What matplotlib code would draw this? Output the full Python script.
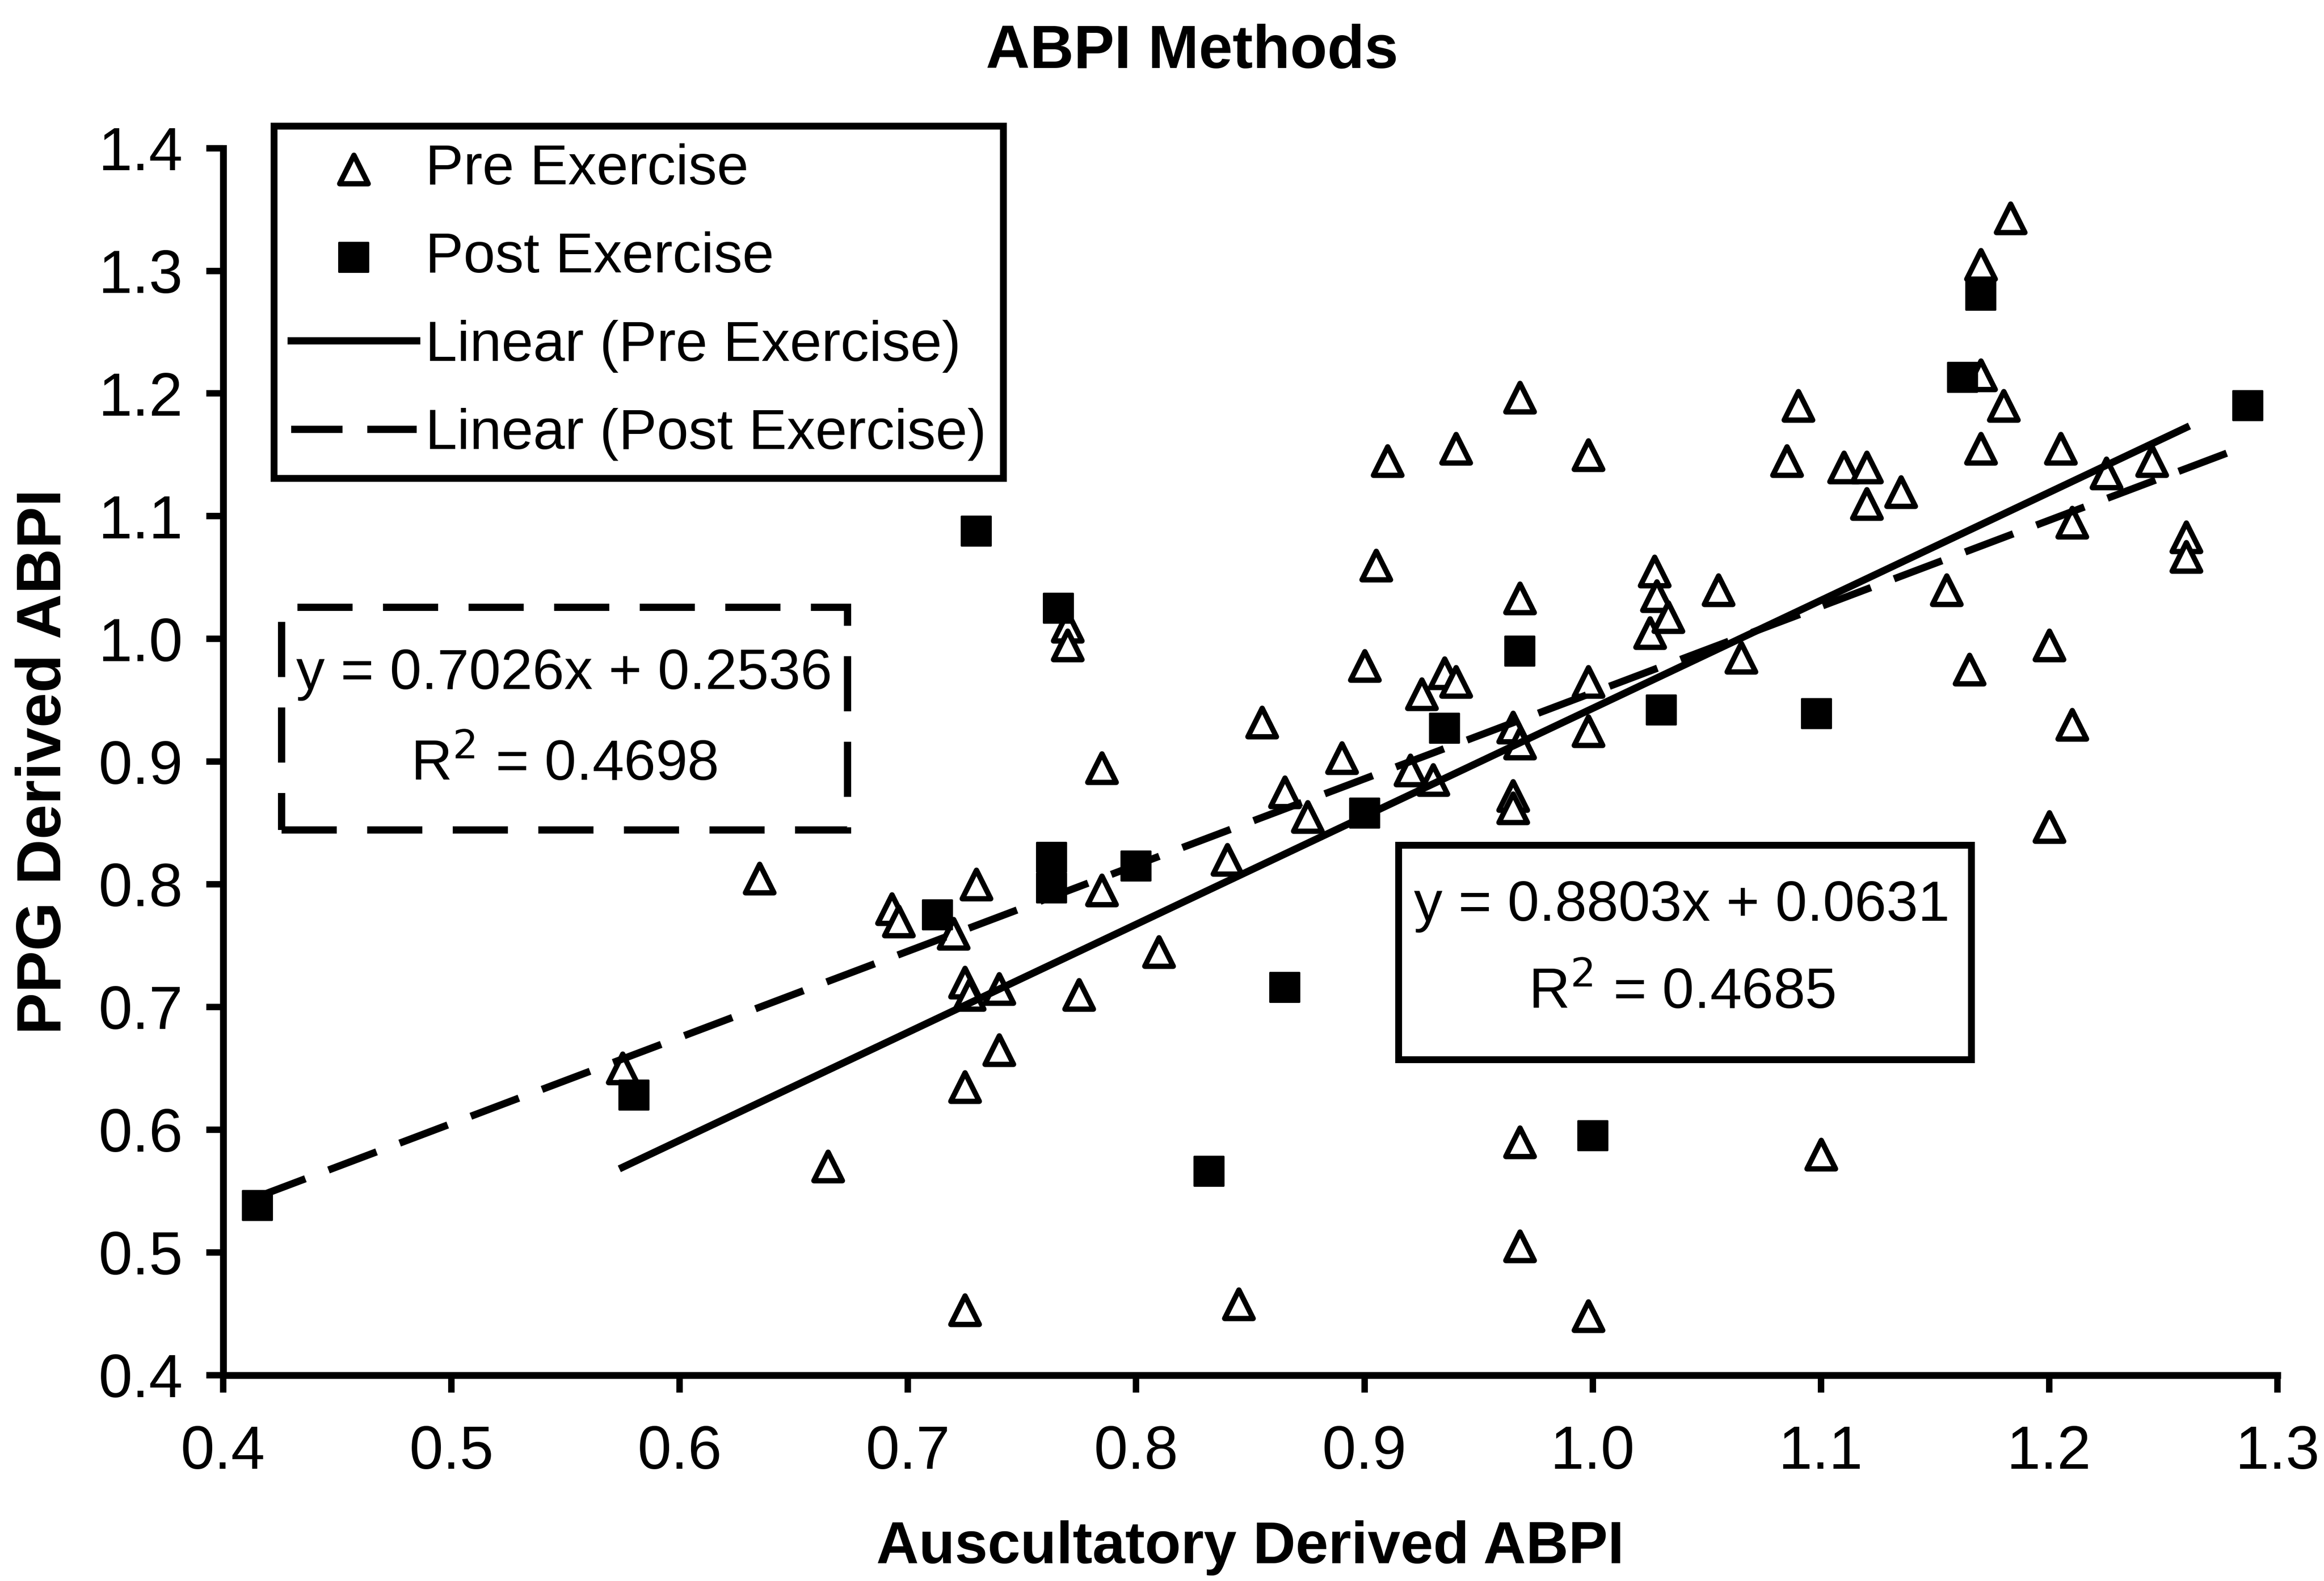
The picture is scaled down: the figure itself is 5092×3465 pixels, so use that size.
import matplotlib
matplotlib.use('Agg')
import matplotlib.pyplot as plt
from matplotlib.patches import Rectangle
from matplotlib.ticker import FormatStrFormatter
import numpy as np

plt.rcParams['font.family'] = ['Liberation Sans Narrow', 'Liberation Sans', 'DejaVu Sans']
plt.rcParams['lines.scale_dashes'] = False
BOLD = ['Liberation Sans', 'DejaVu Sans']

# Pre exercise readings (auscultatory, PPG)
pre_x = [0.575, 0.635, 0.665, 0.693, 0.696, 0.72, 0.725, 0.727, 0.73, 0.725, 0.725,
         0.74, 0.74, 0.77, 0.77, 0.775, 0.785, 0.785, 0.81, 0.84, 0.845, 0.855,
         0.865, 0.875, 0.89, 0.90, 0.905, 0.91, 0.92, 0.925, 0.935, 0.94, 0.93,
         0.94, 0.968, 0.968, 0.965, 0.968, 0.965, 0.965, 0.968, 0.968, 0.998,
         0.998, 0.998, 0.998, 1.027, 1.028, 1.025, 1.033, 1.055, 1.065, 1.085,
         1.09, 1.11, 1.12, 1.12, 1.135, 1.10, 1.155, 1.165, 1.17, 1.17, 1.17,
         1.18, 1.183, 1.20, 1.20, 1.205, 1.21, 1.21, 1.225, 1.245, 1.26, 1.26]
pre_y = [0.65, 0.805, 0.57, 0.78, 0.77, 0.76, 0.72, 0.71, 0.80, 0.635, 0.453,
         0.715, 0.665, 1.01, 0.995, 0.71, 0.795, 0.895, 0.745, 0.82, 0.458, 0.932,
         0.875, 0.855, 0.903, 0.978, 1.06, 1.145, 0.893, 0.955, 0.972, 0.965, 0.885,
         1.155, 1.197, 1.033, 0.928, 0.915, 0.872, 0.862, 0.59, 0.505, 1.15,
         0.965, 0.925, 0.448, 1.055, 1.035, 1.005, 1.018, 1.04, 0.985, 1.145,
         1.19, 1.14, 1.14, 1.11, 1.12, 0.58, 1.04, 0.975, 1.305, 1.215, 1.155,
         1.19, 1.343, 0.995, 0.847, 1.155, 1.095, 0.93, 1.135, 1.145, 1.083, 1.067]

# Post exercise readings
post_x = [0.415, 0.58, 0.713, 0.73, 0.766, 0.763, 0.763, 0.80, 0.832, 0.865,
          0.90, 0.935, 0.968, 1.0, 1.03, 1.098, 1.162, 1.17, 1.287]
post_y = [0.538, 0.628, 0.775, 1.088, 1.025, 0.822, 0.797, 0.815, 0.566, 0.716,
          0.858, 0.927, 0.99, 0.595, 0.942, 0.939, 1.213, 1.28, 1.19]

# Linear trend coefficients (slope, intercept) and R squared
pre_fit = (0.8803, 0.0631, 0.4685)
post_fit = (0.7026, 0.2536, 0.4698)

fig = plt.figure(figsize=(5092 / 300, 3465 / 300), dpi=300)
ax = fig.add_axes([0.096, 0.1303, 0.884, 0.776])

ax.scatter(pre_x, pre_y, marker='^', s=15 ** 2, facecolors='white',
           edgecolors='black', linewidths=2.8, zorder=3, label='Pre Exercise')
ax.scatter(post_x, post_y, marker='s', s=15.5 ** 2, facecolors='black',
           edgecolors='black', linewidths=1, zorder=3, label='Post Exercise')

xs = np.array([min(pre_x), max(pre_x)])
ax.plot(xs, pre_fit[0] * xs + pre_fit[1], color='black', lw=3.8, zorder=4,
        label='Linear (Pre Exercise)')
xs = np.array([min(post_x), max(post_x)])
ax.plot(xs, post_fit[0] * xs + post_fit[1], color='black', lw=3.8, zorder=4,
        dashes=(27, 13), label='Linear (Post Exercise)')

ax.set_xlim(0.4, 1.3)
ax.set_ylim(0.4, 1.4)
ax.set_xticks(np.arange(0.4, 1.31, 0.1))
ax.set_yticks(np.arange(0.4, 1.41, 0.1))
ax.xaxis.set_major_formatter(FormatStrFormatter('%.1f'))
ax.yaxis.set_major_formatter(FormatStrFormatter('%.1f'))
ax.tick_params(labelsize=32, width=3.4, length=9, direction='out')
ax.tick_params(axis='x', pad=17)
ax.tick_params(axis='y', pad=12)
for side in ['top', 'right']:
    ax.spines[side].set_visible(False)
for side in ['left', 'bottom']:
    ax.spines[side].set_linewidth(3.6)

ax.set_xlabel('Auscultatory Derived ABPI', fontsize=31, fontweight='bold',
              family=BOLD, va='center')
ax.set_ylabel('PPG Derived ABPI', fontsize=33, fontweight='bold',
              family=BOLD, va='center')
ax.xaxis.set_label_coords(0.5, -0.141)
ax.yaxis.set_label_coords(-0.087, 0.5)
fig.text(0.513, 0.967, 'ABPI Methods', ha='center', va='center', fontsize=32,
         fontweight='bold', family=BOLD)

leg = ax.legend(loc='upper left', bbox_to_anchor=(0.0248, 1.018), fontsize=30,
                frameon=True, fancybox=False, framealpha=1, borderaxespad=0,
                handlelength=2.2, handletextpad=0.15, labelspacing=0.62,
                borderpad=0.3)
leg.get_frame().set_edgecolor('black')
leg.get_frame().set_linewidth(3.6)

# Equation boxes for the two fits
ax.add_patch(Rectangle((0.0284, 0.4444), 0.2756, 0.1812, transform=ax.transAxes,
                       fill=False, ec='black', lw=3.8, ls=(0, (29, 16)), zorder=5))
ax.text(0.166, 0.571, 'y = %.4fx + %.4f' % (post_fit[0], post_fit[1]),
        transform=ax.transAxes, ha='center', va='center', fontsize=30, zorder=6)
ax.text(0.166, 0.497, 'R$^2$ = %.4f' % post_fit[2],
        transform=ax.transAxes, ha='center', va='center', fontsize=30, zorder=6)
ax.add_patch(Rectangle((0.572, 0.257), 0.279, 0.175, transform=ax.transAxes,
                       fill=False, ec='black', lw=3.6, zorder=5))
ax.text(0.710, 0.382, 'y = %.4fx + %.4f' % (pre_fit[0], pre_fit[1]),
        transform=ax.transAxes, ha='center', va='center', fontsize=30, zorder=6)
ax.text(0.710, 0.311, 'R$^2$ = %.4f' % pre_fit[2],
        transform=ax.transAxes, ha='center', va='center', fontsize=30, zorder=6)

fig.savefig('out.png', dpi=300)
